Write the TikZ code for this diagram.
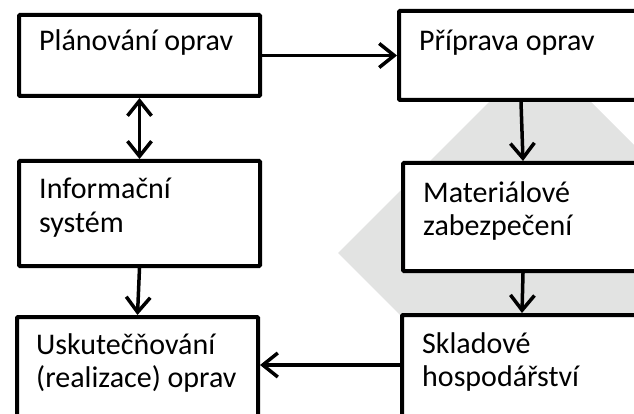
\documentclass[tikz,border=0pt]{standalone}
\usepackage{fontspec}
\setmainfont{Carlito}
\usetikzlibrary{arrows.meta}
\definecolor{wm}{RGB}{226,227,226}
\begin{document}
\begin{tikzpicture}[x=1pt,y=-1pt,
  box/.style={draw=black, line width=4pt, fill=white, rectangle, inner sep=0pt, outer sep=2pt, anchor=north west, rounded corners=1pt},
  lbl/.style={anchor=base west, inner sep=0pt, font=\fontsize{30}{33}\selectfont},
  conn/.style={line width=3.5pt, -{Straight Barb[length=15pt,width=24pt]}},
  conn2/.style={line width=3.5pt, {Straight Barb[length=15pt,width=24pt]}-{Straight Barb[length=15pt,width=24pt]}}
]
\useasboundingbox (0,0) rectangle (634,414);
\clip (0,0) rectangle (634,414);
\fill[wm] (540,51) -- (742,253) -- (540,455) -- (338,253) -- cycle;
% boxes
\node[box, minimum width=241pt, minimum height=81pt]  (b1) at (17,13) {};
\node[box, minimum width=241pt, minimum height=105pt] (b2) at (17,159) {};
\node[box, minimum width=241pt, minimum height=126pt] (b3) at (15,315) {};
\node[box, minimum width=279pt, minimum height=89pt]  (b4) at (397,9) {};
\node[box, minimum width=275pt, minimum height=108pt] (b5) at (401,161) {};
\node[box, minimum width=276pt, minimum height=128pt] (b6) at (400,313) {};
% labels
\node[lbl] (t1) at (39,51) {Plánování oprav};
\node[lbl] (t4) at (419,51) {Příprava oprav};
\node[lbl] (t2a) at (39,199) {Informační};
\node[lbl] (t2b) at (39,232) {systém};
\node[lbl] (t5a) at (423,203) {Materiálové};
\node[lbl] (t5b) at (423,235) {zabezpečení};
\node[lbl] (t3a) at (36,354) {Uskutečňování};
\node[lbl] (t3b) at (36,387) {(realizace) oprav};
\node[lbl] (t6a) at (422,353) {Skladové};
\node[lbl] (t6b) at (422,386) {hospodářství};
% connectors
\draw[conn] (b1.east) -- (b4.west);
\draw[conn2] (b1.south) -- (b2.north);
\draw[conn] (b2.south) -- (b3.north);
\draw[conn] ([xshift=124pt]b4.south west) -- ([xshift=122pt]b5.north west);
\draw[conn] ([xshift=122pt]b5.south west) -- ([xshift=122pt]b6.north west);
\draw[conn] ([yshift=-52pt]b6.north west) -- ([yshift=-50pt]b3.north east);
\end{tikzpicture}
\end{document}
